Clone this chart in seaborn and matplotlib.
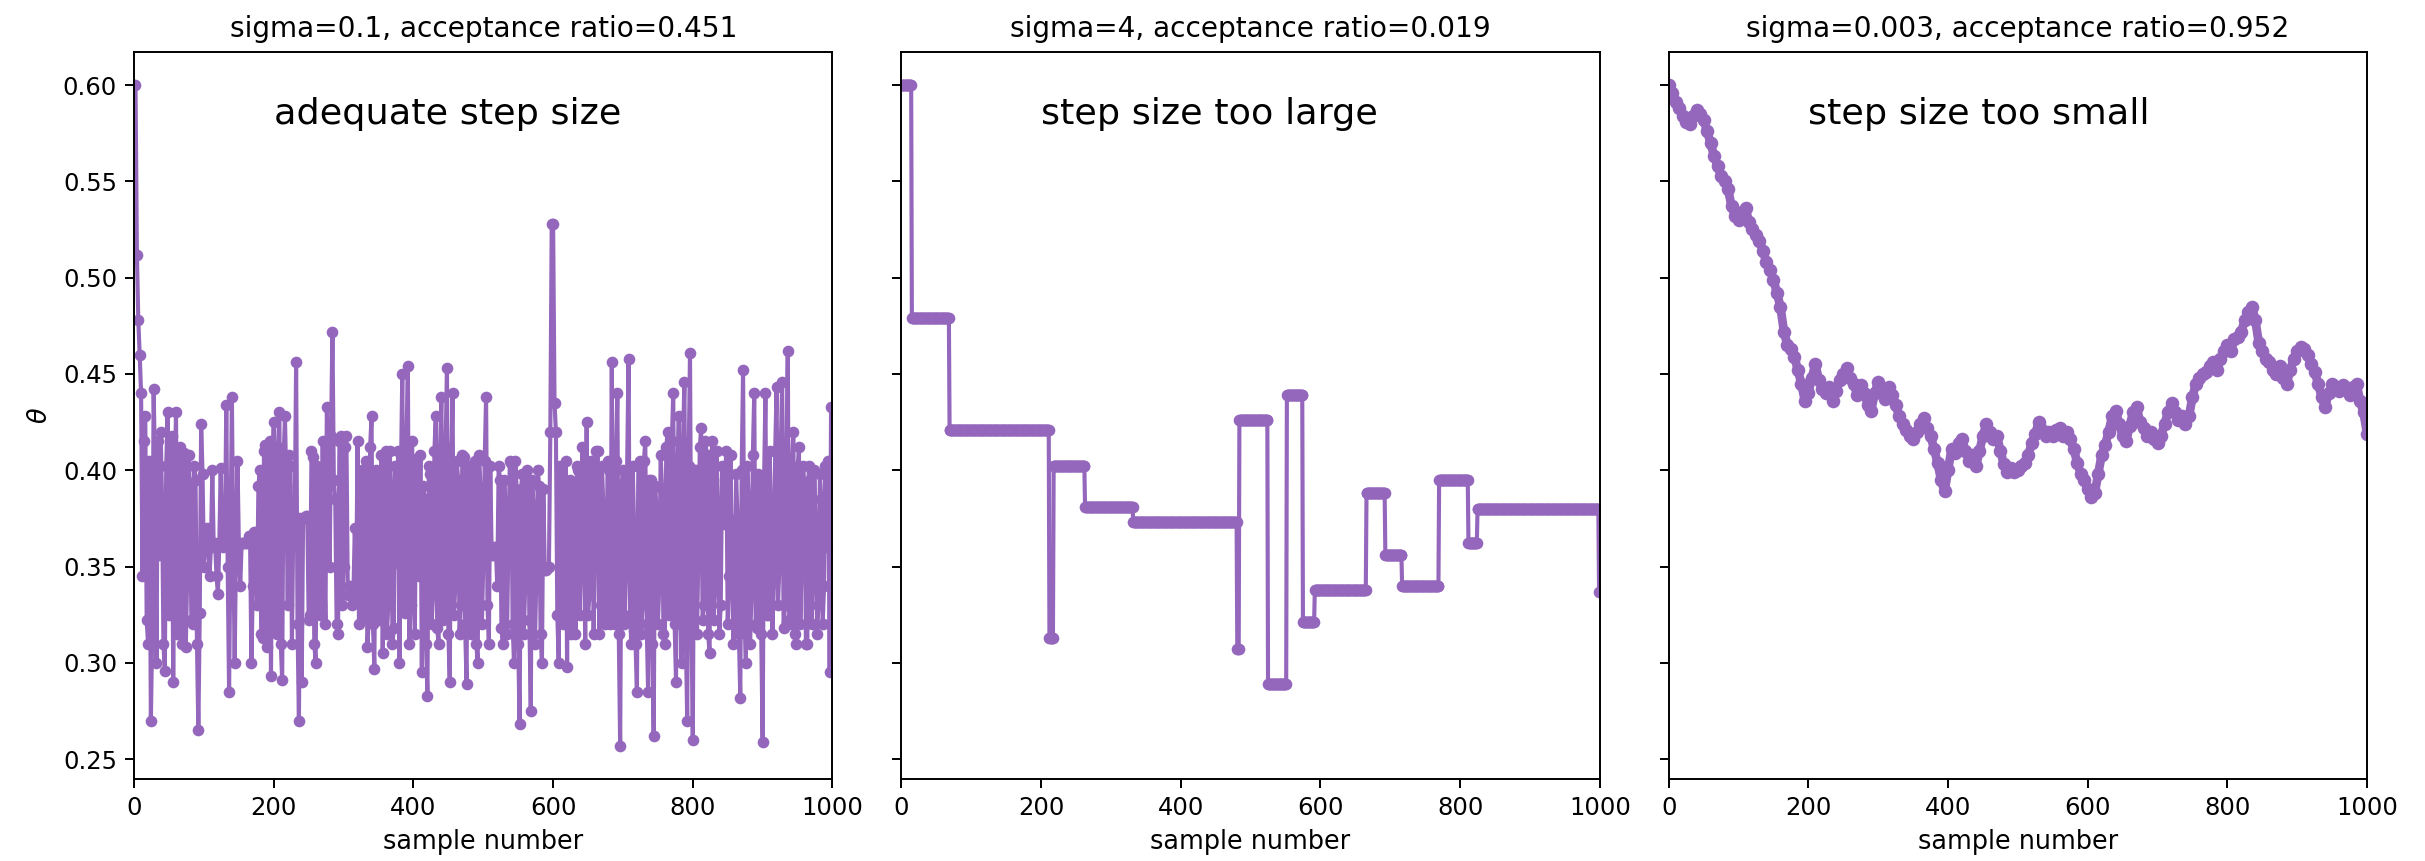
import numpy as np
import pandas as pd
import seaborn as sns
import matplotlib
matplotlib.use("Agg")
import matplotlib.pyplot as plt

# trace values (every 2nd sample for sigma=0.1)
theta_good = [
    0.600, 0.600, 0.512, 0.478, 0.460, 0.440, 0.345, 0.415, 0.428, 0.322, 0.310, 0.405, 0.270, 0.318, 0.442, 0.398, 0.300, 0.415, 0.356, 0.420,
    0.385, 0.310, 0.296, 0.402, 0.430, 0.325, 0.330, 0.418, 0.290, 0.390, 0.430, 0.315, 0.360, 0.412, 0.310, 0.396, 0.409, 0.308, 0.345, 0.408,
    0.390, 0.322, 0.320, 0.402, 0.395, 0.310, 0.265, 0.326, 0.424, 0.398, 0.350, 0.362, 0.370, 0.362, 0.345, 0.360, 0.400, 0.360, 0.362, 0.345,
    0.336, 0.362, 0.401, 0.362, 0.360, 0.362, 0.434, 0.350, 0.285, 0.362, 0.438, 0.362, 0.300, 0.362, 0.405, 0.362, 0.340, 0.362, 0.362, 0.362,
    0.362, 0.362, 0.366, 0.366, 0.300, 0.340, 0.368, 0.368, 0.330, 0.392, 0.400, 0.315, 0.313, 0.410, 0.413, 0.308, 0.330, 0.415, 0.293, 0.400,
    0.425, 0.318, 0.315, 0.412, 0.430, 0.310, 0.291, 0.405, 0.428, 0.392, 0.330, 0.408, 0.402, 0.310, 0.375, 0.375, 0.456, 0.320, 0.270, 0.375,
    0.290, 0.375, 0.375, 0.376, 0.376, 0.322, 0.325, 0.410, 0.407, 0.310, 0.300, 0.402, 0.398, 0.325, 0.330, 0.415, 0.360, 0.320, 0.433, 0.400,
    0.350, 0.418, 0.472, 0.395, 0.385, 0.320, 0.315, 0.415, 0.418, 0.330, 0.350, 0.412, 0.418, 0.335, 0.340, 0.340, 0.330, 0.335, 0.370, 0.338,
    0.415, 0.320, 0.331, 0.400, 0.380, 0.325, 0.405, 0.308, 0.322, 0.412, 0.428, 0.320, 0.297, 0.400, 0.395, 0.322, 0.350, 0.408, 0.305, 0.395,
    0.410, 0.315, 0.330, 0.410, 0.392, 0.310, 0.318, 0.402, 0.352, 0.410, 0.300, 0.395, 0.450, 0.330, 0.326, 0.415, 0.454, 0.310, 0.330, 0.415,
    0.372, 0.315, 0.406, 0.390, 0.345, 0.408, 0.295, 0.392, 0.385, 0.310, 0.283, 0.402, 0.398, 0.320, 0.335, 0.410, 0.428, 0.318, 0.310, 0.410,
    0.438, 0.322, 0.325, 0.412, 0.453, 0.315, 0.290, 0.400, 0.440, 0.325, 0.340, 0.405, 0.395, 0.315, 0.330, 0.408, 0.407, 0.320, 0.289, 0.402,
    0.398, 0.315, 0.320, 0.402, 0.405, 0.310, 0.300, 0.408, 0.390, 0.320, 0.352, 0.405, 0.438, 0.330, 0.310, 0.402, 0.356, 0.356, 0.360, 0.360,
    0.340, 0.402, 0.395, 0.318, 0.310, 0.395, 0.380, 0.315, 0.362, 0.405, 0.404, 0.320, 0.300, 0.405, 0.388, 0.310, 0.268, 0.390, 0.398, 0.315,
    0.340, 0.400, 0.395, 0.322, 0.275, 0.395, 0.380, 0.310, 0.345, 0.400, 0.392, 0.315, 0.300, 0.390, 0.348, 0.348, 0.350, 0.350, 0.420, 0.528,
    0.528, 0.435, 0.420, 0.325, 0.300, 0.402, 0.397, 0.320, 0.360, 0.405, 0.298, 0.392, 0.395, 0.315, 0.380, 0.390, 0.315, 0.402, 0.400, 0.325,
    0.360, 0.412, 0.365, 0.310, 0.425, 0.325, 0.335, 0.405, 0.402, 0.315, 0.360, 0.410, 0.410, 0.315, 0.330, 0.402, 0.380, 0.320, 0.325, 0.405,
    0.400, 0.320, 0.456, 0.332, 0.320, 0.405, 0.440, 0.315, 0.257, 0.392, 0.400, 0.320, 0.345, 0.400, 0.458, 0.325, 0.310, 0.402, 0.370, 0.310,
    0.285, 0.402, 0.405, 0.315, 0.330, 0.405, 0.415, 0.320, 0.285, 0.395, 0.395, 0.310, 0.262, 0.392, 0.380, 0.320, 0.340, 0.408, 0.390, 0.315,
    0.310, 0.412, 0.420, 0.325, 0.330, 0.415, 0.440, 0.320, 0.290, 0.402, 0.428, 0.330, 0.300, 0.415, 0.446, 0.315, 0.270, 0.402, 0.461, 0.325,
    0.260, 0.400, 0.400, 0.315, 0.355, 0.412, 0.422, 0.322, 0.330, 0.415, 0.408, 0.315, 0.305, 0.405, 0.415, 0.322, 0.340, 0.410, 0.380, 0.315,
    0.330, 0.402, 0.372, 0.395, 0.410, 0.320, 0.345, 0.408, 0.355, 0.310, 0.320, 0.398, 0.375, 0.315, 0.282, 0.400, 0.452, 0.325, 0.300, 0.402,
    0.385, 0.310, 0.335, 0.408, 0.440, 0.320, 0.318, 0.398, 0.395, 0.315, 0.259, 0.392, 0.440, 0.325, 0.325, 0.410, 0.380, 0.315, 0.342, 0.410,
    0.443, 0.330, 0.350, 0.412, 0.446, 0.318, 0.330, 0.405, 0.462, 0.322, 0.320, 0.402, 0.420, 0.315, 0.310, 0.400, 0.412, 0.320, 0.355, 0.402,
    0.390, 0.310, 0.310, 0.402, 0.395, 0.320, 0.345, 0.400, 0.370, 0.315, 0.330, 0.398, 0.385, 0.320, 0.340, 0.402, 0.360, 0.405, 0.295, 0.433,
]
good_step = 2

# sigma=4: chain sits on a few values; start sample of each plateau
big_starts = [0, 15, 69, 212, 218, 263, 332, 481, 484, 525, 552, 575, 592,
              666, 693, 717, 770, 812, 825, 999]
big_values = [0.600, 0.479, 0.421, 0.313, 0.402, 0.381, 0.373, 0.307, 0.426,
              0.289, 0.439, 0.321, 0.338, 0.388, 0.356, 0.340, 0.395, 0.362,
              0.380, 0.337]
n_samples = 1000

# sigma=0.003: slow random walk, every 5th sample
theta_small = [
    0.600, 0.596, 0.591, 0.588, 0.584, 0.581, 0.580, 0.584, 0.587, 0.585,
    0.582, 0.576, 0.570, 0.563, 0.558, 0.553, 0.550, 0.546, 0.537, 0.532,
    0.530, 0.534, 0.536, 0.529, 0.525, 0.522, 0.519, 0.514, 0.508, 0.504,
    0.499, 0.492, 0.485, 0.472, 0.465, 0.463, 0.459, 0.452, 0.445, 0.436,
    0.440, 0.448, 0.455, 0.447, 0.442, 0.440, 0.443, 0.436, 0.441, 0.447,
    0.450, 0.453, 0.448, 0.445, 0.439, 0.444, 0.440, 0.434, 0.431, 0.440,
    0.446, 0.441, 0.437, 0.443, 0.439, 0.434, 0.428, 0.424, 0.421, 0.418,
    0.416, 0.420, 0.424, 0.427, 0.422, 0.418, 0.411, 0.404, 0.395, 0.389,
    0.400, 0.411, 0.409, 0.414, 0.416, 0.410, 0.405, 0.408, 0.402, 0.410,
    0.418, 0.424, 0.420, 0.416, 0.418, 0.410, 0.403, 0.399, 0.401, 0.399,
    0.400, 0.402, 0.404, 0.408, 0.414, 0.419, 0.425, 0.421, 0.418, 0.420,
    0.418, 0.421, 0.422, 0.418, 0.420, 0.416, 0.411, 0.404, 0.398, 0.395,
    0.390, 0.386, 0.388, 0.398, 0.408, 0.413, 0.420, 0.428, 0.431, 0.424,
    0.418, 0.415, 0.423, 0.430, 0.433, 0.425, 0.422, 0.418, 0.420, 0.416,
    0.414, 0.418, 0.424, 0.430, 0.435, 0.430, 0.426, 0.428, 0.424, 0.428,
    0.438, 0.445, 0.448, 0.450, 0.451, 0.454, 0.456, 0.452, 0.458, 0.462,
    0.465, 0.462, 0.468, 0.469, 0.472, 0.478, 0.482, 0.485, 0.478, 0.466,
    0.462, 0.458, 0.456, 0.452, 0.450, 0.454, 0.448, 0.445, 0.452, 0.458,
    0.462, 0.464, 0.463, 0.460, 0.455, 0.451, 0.445, 0.438, 0.433, 0.440,
    0.445, 0.443, 0.441, 0.444, 0.442, 0.439, 0.443, 0.445, 0.436, 0.430,
    0.419,
]
small_step = 5

titles = ["sigma=0.1, acceptance ratio=0.451",
          "sigma=4, acceptance ratio=0.019",
          "sigma=0.003, acceptance ratio=0.952"]
notes = ["adequate step size", "step size too large", "step size too small"]

color = "#9467bd"

# build the three traces
df_good = pd.DataFrame({"sample": np.arange(len(theta_good)) * good_step,
                        "theta": theta_good})
lengths = np.diff(big_starts + [n_samples])
df_big = pd.DataFrame({"sample": np.arange(n_samples),
                       "theta": np.repeat(big_values, lengths)})
df_small = pd.DataFrame({"sample": np.arange(len(theta_small)) * small_step,
                         "theta": theta_small})
traces = [df_good, df_big, df_small]
widths = [1.7, 1.7, 3.6]
msizes = [4.8, 4.8, 5.6]

fig, axes = plt.subplots(1, 3, sharey=True, figsize=(2425 / 175, 861 / 175), dpi=175)
fig.subplots_adjust(left=0.0553, right=0.9761, bottom=0.0956, top=0.9396, wspace=0.0987)

for ax, d, t, note, lw, ms in zip(axes, traces, titles, notes, widths, msizes):
    sns.lineplot(data=d, x="sample", y="theta", ax=ax, color=color,
                 marker="o", markersize=ms, linewidth=lw,
                 markeredgewidth=0, markeredgecolor=color)
    ax.set_xlim(0, 1000)
    ax.set_title(t, fontsize=11.5)
    ax.text(200, 0.58, note, fontsize=15)
    ax.set_xlabel("sample number", fontsize=10.5)
    ax.set_ylabel("")

axes[0].set_ylabel(r"$\theta$", fontsize=10.5)

fig.savefig("out.png", dpi=175)
